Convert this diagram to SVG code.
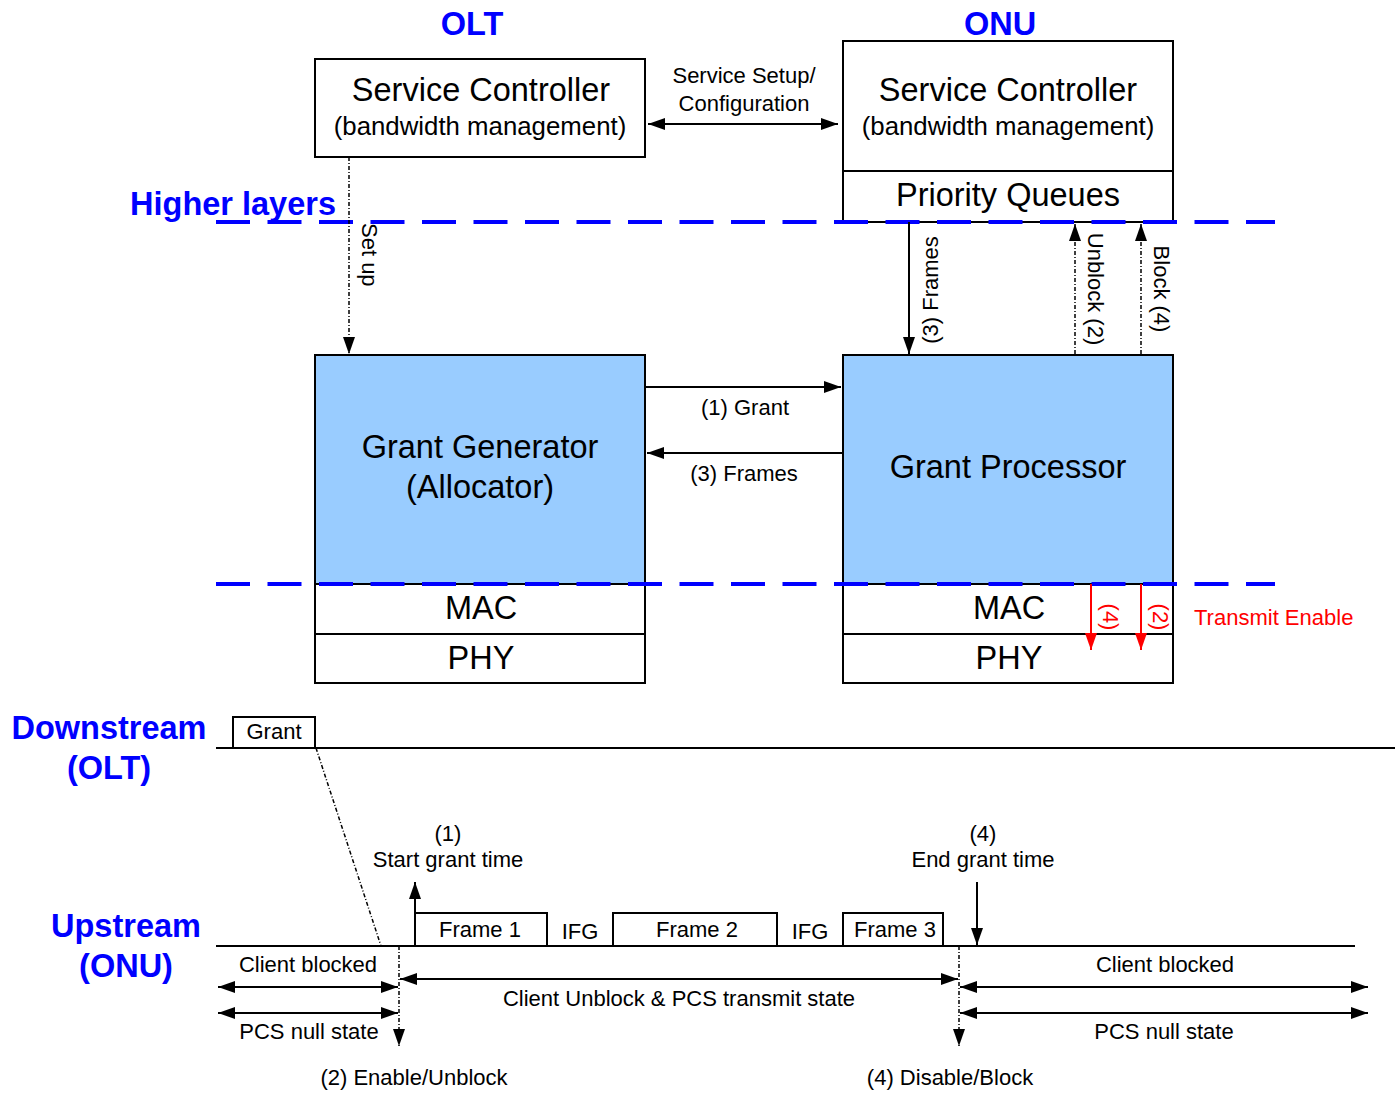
<svg xmlns="http://www.w3.org/2000/svg" width="1395" height="1096" viewBox="0 0 1395 1096">
<style>
text{font-family:"Liberation Sans",Arial,sans-serif;fill:#000}
.big{font-size:32.5px;text-anchor:middle}
.mid{font-size:25.8px;text-anchor:middle}
.sm{font-size:22px;text-anchor:middle}
.lbl{font-size:32.5px;font-weight:bold;fill:#0000FF;text-anchor:middle}
.box{fill:#fff;stroke:#000;stroke-width:2}
.blue{fill:#99CCFF;stroke:#000;stroke-width:2}
.ln{stroke:#000;stroke-width:2;fill:none}
.dsh{stroke:#000;stroke-width:1.5;fill:none;stroke-dasharray:4,2,1,2}
.layer{stroke:#0000FF;stroke-width:4;fill:none;stroke-dasharray:34,17.5}
.red{stroke:#FF0000;stroke-width:2;fill:none}
</style>
<defs>
<marker id="ah" viewBox="0 0 17 12" refX="17" refY="6" markerWidth="17" markerHeight="12" markerUnits="userSpaceOnUse" orient="auto-start-reverse"><path d="M0,0L17,6L0,12z" fill="#000"/></marker>
<marker id="ahr" viewBox="0 0 17 12" refX="17" refY="6" markerWidth="17" markerHeight="12" markerUnits="userSpaceOnUse" orient="auto"><path d="M0,0L17,6L0,12z" fill="#FF0000"/></marker>
</defs>
<rect width="1395" height="1096" fill="#fff"/>

<text class="lbl" x="472" y="35">OLT</text>
<text class="lbl" x="1000" y="35">ONU</text>
<text class="lbl" x="233" y="215">Higher layers</text>
<text class="lbl" x="109" y="739">Downstream</text>
<text class="lbl" x="109" y="779">(OLT)</text>
<text class="lbl" x="126" y="937">Upstream</text>
<text class="lbl" x="126" y="977">(ONU)</text>

<g id="olt-sc">
<rect class="box" x="315" y="59" width="330" height="98"/>
<text class="big" x="481" y="101">Service Controller</text>
<text class="mid" x="480" y="135">(bandwidth management)</text>
</g>
<g id="onu-sc">
<rect class="box" x="843" y="41" width="330" height="130"/>
<text class="big" x="1008" y="101">Service Controller</text>
<text class="mid" x="1008" y="135">(bandwidth management)</text>
</g>
<g id="onu-pq">
<rect class="box" x="843" y="171" width="330" height="51"/>
<text class="big" x="1008" y="206">Priority Queues</text>
</g>
<g id="olt-gg">
<rect class="blue" x="315" y="355" width="330" height="229"/>
<text class="big" x="480" y="458">Grant Generator</text>
<text class="big" x="480" y="498">(Allocator)</text>
</g>
<g id="olt-mac">
<rect class="box" x="315" y="584" width="330" height="50"/>
<text class="big" x="481" y="619">MAC</text>
</g>
<g id="olt-phy">
<rect class="box" x="315" y="634" width="330" height="49"/>
<text class="big" x="481" y="669">PHY</text>
</g>
<g id="onu-gp">
<rect class="blue" x="843" y="355" width="330" height="229"/>
<text class="big" x="1008" y="478">Grant Processor</text>
</g>
<g id="onu-mac">
<rect class="box" x="843" y="584" width="330" height="50"/>
<text class="big" x="1009" y="619">MAC</text>
</g>
<g id="onu-phy">
<rect class="box" x="843" y="634" width="330" height="49"/>
<text class="big" x="1009" y="669">PHY</text>
</g>

<g id="layers">
<line class="layer" x1="216" y1="222" x2="1275" y2="222"/>
<line class="layer" x1="216" y1="584" x2="1275" y2="584"/>
</g>

<g id="connectors">
<line class="ln" x1="648" y1="124" x2="838" y2="124" marker-start="url(#ah)" marker-end="url(#ah)"/>
<text class="sm" x="744" y="83">Service Setup/</text>
<text class="sm" x="744" y="111">Configuration</text>

<line class="dsh" x1="349" y1="157" x2="349" y2="354" marker-end="url(#ah)"/>
<text class="sm" transform="translate(362,223) rotate(90)" style="text-anchor:start">Set up</text>

<line class="ln" x1="909" y1="222" x2="909" y2="354" marker-end="url(#ah)"/>
<text class="sm" transform="translate(938,290) rotate(-90)">(3) Frames</text>
<line class="dsh" x1="1075" y1="354" x2="1075" y2="224" marker-end="url(#ah)"/>
<text class="sm" transform="translate(1088,289) rotate(90)">Unblock (2)</text>
<line class="dsh" x1="1141" y1="354" x2="1141" y2="224" marker-end="url(#ah)"/>
<text class="sm" transform="translate(1154,289) rotate(90)">Block (4)</text>

<line class="ln" x1="646" y1="387" x2="841" y2="387" marker-end="url(#ah)"/>
<text class="sm" x="745" y="415">(1) Grant</text>
<line class="ln" x1="842" y1="453" x2="647" y2="453" marker-end="url(#ah)"/>
<text class="sm" x="744" y="481">(3) Frames</text>

<line class="red" x1="1091" y1="584" x2="1091" y2="650" marker-end="url(#ahr)"/>
<line class="red" x1="1141" y1="584" x2="1141" y2="650" marker-end="url(#ahr)"/>
<text class="sm" style="fill:#FF0000" transform="translate(1103,617) rotate(90)">(4)</text>
<text class="sm" style="fill:#FF0000" transform="translate(1153,617) rotate(90)">(2)</text>
<text x="1194" y="625" style="font-size:22px;fill:#FF0000">Transmit Enable</text>
</g>

<g id="timing">
<rect class="box" x="233" y="717" width="82" height="31"/>
<text class="sm" x="274" y="739">Grant</text>
<line class="ln" x1="216" y1="748" x2="1395" y2="748"/>
<line class="dsh" x1="316" y1="748" x2="381" y2="946"/>
<line class="ln" x1="216" y1="946" x2="1355" y2="946"/>

<rect class="box" x="415" y="913" width="132" height="33"/>
<text class="sm" x="480" y="937">Frame 1</text>
<text class="sm" x="580" y="939">IFG</text>
<rect class="box" x="613" y="913" width="164" height="33"/>
<text class="sm" x="697" y="937">Frame 2</text>
<text class="sm" x="810" y="939">IFG</text>
<rect class="box" x="843" y="913" width="100" height="33"/>
<text class="sm" x="895" y="937">Frame 3</text>

<line class="ln" x1="415" y1="913" x2="415" y2="882" marker-end="url(#ah)"/>
<text class="sm" x="448" y="841">(1)</text>
<text class="sm" x="448" y="867">Start grant time</text>
<line class="ln" x1="977" y1="882" x2="977" y2="945" marker-end="url(#ah)"/>
<text class="sm" x="983" y="841">(4)</text>
<text class="sm" x="983" y="867">End grant time</text>

<line class="dsh" x1="399" y1="946" x2="399" y2="1046" marker-end="url(#ah)"/>
<line class="dsh" x1="959" y1="946" x2="959" y2="1046" marker-end="url(#ah)"/>

<text class="sm" x="308" y="972">Client blocked</text>
<line class="ln" x1="218" y1="987" x2="398" y2="987" marker-start="url(#ah)" marker-end="url(#ah)"/>
<line class="ln" x1="218" y1="1013" x2="398" y2="1013" marker-start="url(#ah)" marker-end="url(#ah)"/>
<text class="sm" x="309" y="1039">PCS null state</text>

<line class="ln" x1="400" y1="979" x2="958" y2="979" marker-start="url(#ah)" marker-end="url(#ah)"/>
<text class="sm" x="679" y="1006">Client Unblock &amp; PCS transmit state</text>

<text class="sm" x="1165" y="972">Client blocked</text>
<line class="ln" x1="960" y1="987" x2="1368" y2="987" marker-start="url(#ah)" marker-end="url(#ah)"/>
<line class="ln" x1="960" y1="1013" x2="1368" y2="1013" marker-start="url(#ah)" marker-end="url(#ah)"/>
<text class="sm" x="1164" y="1039">PCS null state</text>

<text class="sm" x="414" y="1085">(2) Enable/Unblock</text>
<text class="sm" x="950" y="1085">(4) Disable/Block</text>
</g>
</svg>
